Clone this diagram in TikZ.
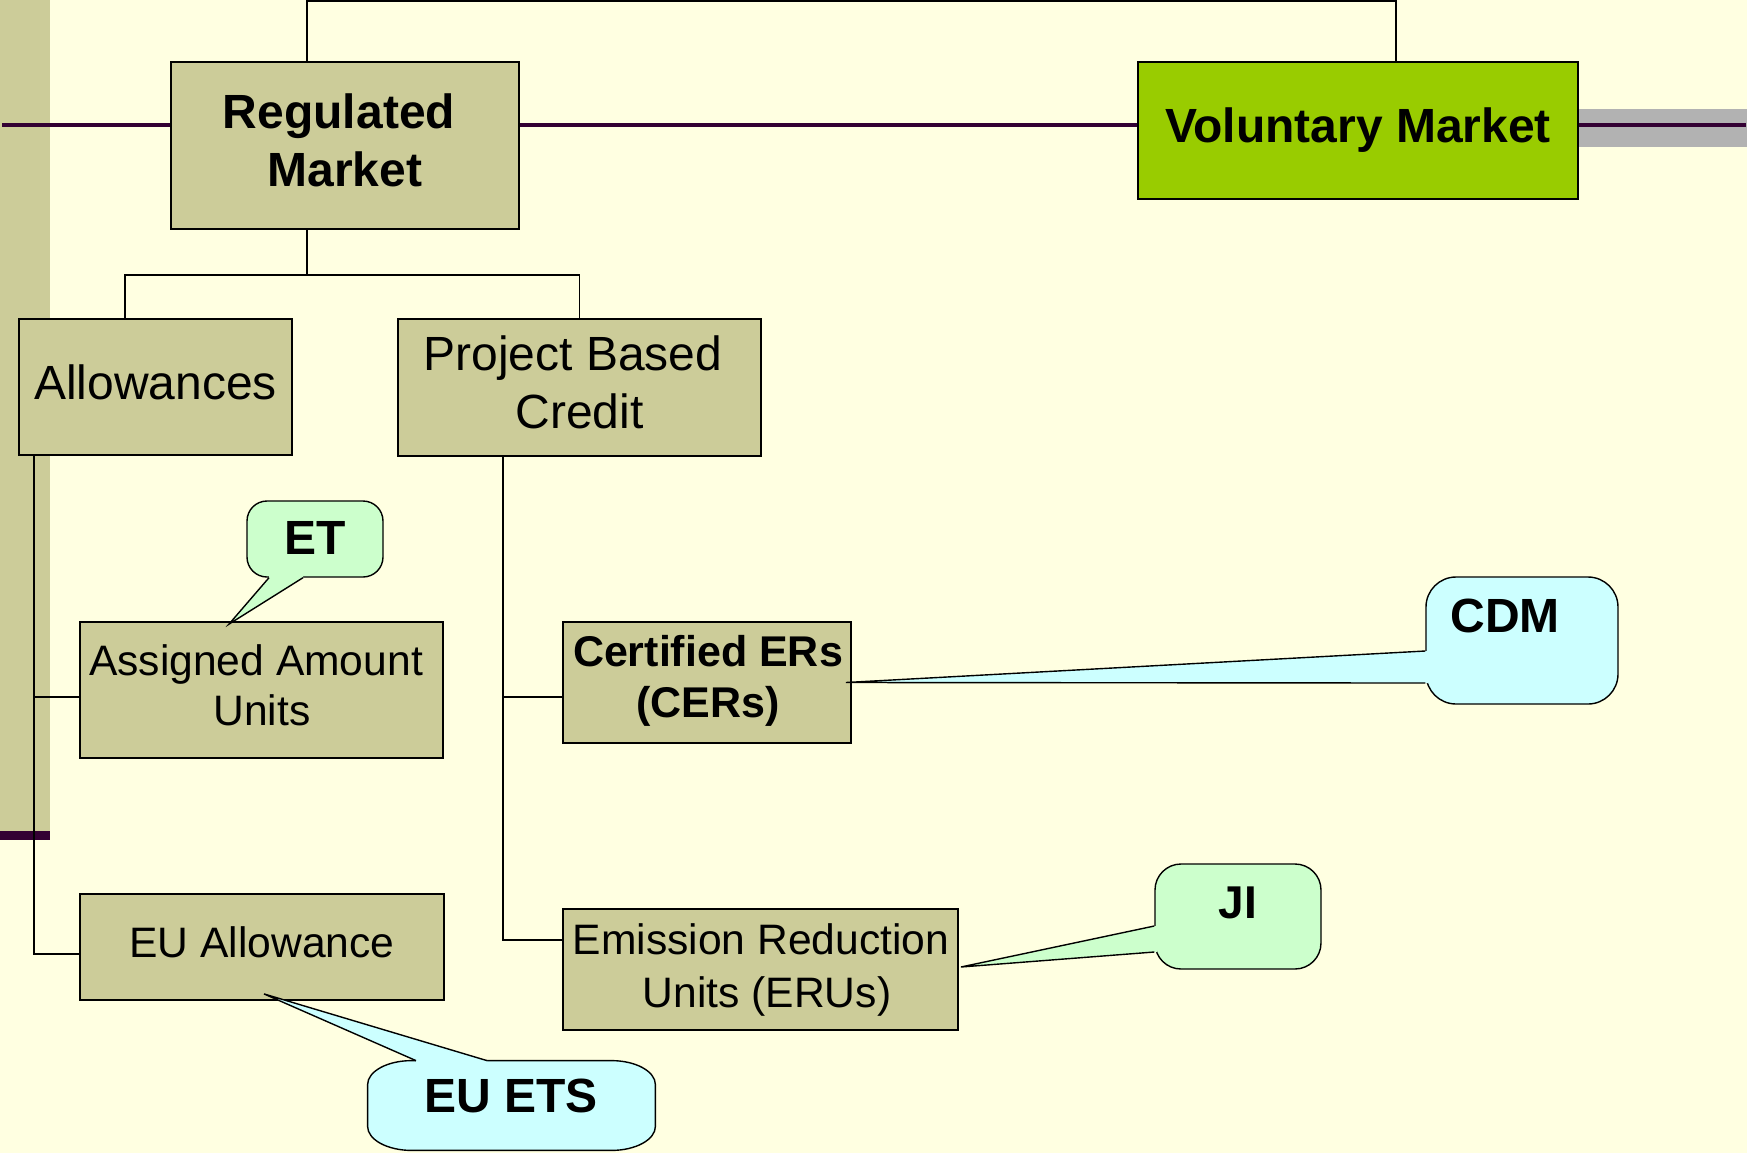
\documentclass[tikz,border=0pt]{standalone}
\usepackage{fontspec}
\setmainfont{Liberation Sans}
\definecolor{bg}{RGB}{255,255,225}
\definecolor{olive}{RGB}{204,204,153}
\definecolor{vgreen}{RGB}{153,204,0}
\definecolor{lgreen}{RGB}{204,255,204}
\definecolor{lcyan}{RGB}{204,255,255}
\definecolor{plum}{RGB}{51,0,51}
\definecolor{greyband}{RGB}{178,178,178}
\tikzset{
  box/.style={draw=black, line width=0.9pt, fill=olive, inner sep=0pt},
  callbox/.style={draw=black, line width=0.7pt, inner sep=0pt},
  conn/.style={draw=black, line width=0.7pt},
  cline/.style={draw=black, line width=0.7pt, line join=miter},
  bigb/.style={font=\fontsize{24pt}{29pt}\selectfont\bfseries, inner sep=0pt, anchor=base},
  bigr/.style={font=\fontsize{24pt}{29pt}\selectfont, inner sep=0pt, anchor=base},
  smallr/.style={font=\fontsize{21.3pt}{25pt}\selectfont, inner sep=0pt, anchor=base},
  smallb/.style={font=\fontsize{21.5pt}{25pt}\selectfont\bfseries, inner sep=0pt, anchor=base}
}
\begin{document}
\begin{tikzpicture}[x=0.5pt,y=-0.5pt]
\useasboundingbox (0,0) rectangle (1747,1153);
\fill[bg] (0,0) rectangle (1747,1153);
% slide decoration
\fill[olive] (0,0) rectangle (50,840);
\fill[plum] (0,831) rectangle (50,840);
\fill[greyband] (1578,109) rectangle (1747,147);
\draw[plum, line width=1.8pt] (2,125) -- (1746,125);

% boxes
\node[box, minimum width=174pt, minimum height=83.5pt] (rm) at (345,145.5) {};
\node[box, fill=vgreen, minimum width=220pt, minimum height=68.5pt] (vm) at (1358,130.5) {};
\node[box, minimum width=136.5pt, minimum height=68pt] (alw) at (155.5,387) {};
\node[box, minimum width=181.5pt, minimum height=68.5pt] (pbc) at (579.5,387.5) {};
\node[box, minimum width=181.5pt, minimum height=68pt] (aau) at (261.5,690) {};
\node[box, minimum width=182pt, minimum height=53pt] (eua) at (262,947) {};
\node[box, minimum width=144pt, minimum height=60.5pt] (cer) at (707,682.5) {};
\node[box, minimum width=197.5pt, minimum height=60.5pt] (eru) at (760.5,969.5) {};

% connectors
\draw[conn] ([xshift=-19pt]rm.north) -- ++(0,-60) -| ([xshift=19pt]vm.north);
\draw[conn] ([xshift=-19pt]rm.south) -- ++(0,45) coordinate (split);
\draw[conn] (split) -| ([xshift=-15.25pt]alw.north);
\draw[conn] (split) -| (pbc.north);
\draw[conn] ([xshift=8pt]alw.south west) |- ([yshift=-3.5pt]aau.west);
\draw[conn] ([xshift=8pt]alw.south west) |- ([yshift=-3.5pt]eua.west);
\draw[conn] ([xshift=53pt]pbc.south west) |- ([yshift=-7.25pt]cer.west);
\draw[conn] ([xshift=53pt]pbc.south west) |- ([yshift=14.75pt]eru.west);

% callouts
\node[callbox, fill=lgreen, minimum width=68pt, minimum height=38pt, rounded corners=10pt] (et) at (315,539) {};
\node[callbox, fill=lcyan, minimum width=96pt, minimum height=63.5pt, rounded corners=15pt] (cdm) at (1522,640.5) {};
\node[callbox, fill=lgreen, minimum width=83pt, minimum height=52.5pt, rounded corners=13pt] (ji) at (1238,916.5) {};
\node[inner sep=0pt, minimum width=143.5pt, minimum height=44.5pt] (euets) at (511.5,1105.5) {};
\draw[callbox, fill=lcyan] ([xshift=22pt]euets.north west) -- ([xshift=-22pt]euets.north east)
  arc[start angle=90, end angle=0, x radius=22pt, y radius=12pt]
  -- ([yshift=12pt]euets.south east)
  arc[start angle=0, end angle=-90, x radius=22pt, y radius=12pt]
  -- ([xshift=22pt]euets.south west)
  arc[start angle=270, end angle=180, x radius=22pt, y radius=12pt]
  -- ([yshift=-12pt]euets.north west)
  arc[start angle=180, end angle=90, x radius=22pt, y radius=12pt] -- cycle;

% pointers
\coordinate (ettip) at ([xshift=-16.25pt,yshift=-1.5pt]aau.north);
\fill[lgreen] (ettip) -- ([xshift=-23pt]et.south) -- ([xshift=-23pt,yshift=1.5pt]et.south) -- ([xshift=-6pt,yshift=1.5pt]et.south) -- ([xshift=-6pt]et.south) -- cycle;
\draw[cline] ([xshift=-23pt]et.south) -- (ettip) -- ([xshift=-6pt]et.south);

\coordinate (cdmtip) at ([xshift=-3pt]cer.east);
\fill[lcyan] (cdmtip) -- ([yshift=-5.25pt]cdm.west) -- ([xshift=1.5pt,yshift=-5.25pt]cdm.west) -- ([xshift=1.5pt,yshift=-21.25pt]cdm.west) -- ([yshift=-21.25pt]cdm.west) -- cycle;
\draw[cline] ([yshift=-5.25pt]cdm.west) -- (cdmtip) -- ([yshift=-21.25pt]cdm.west);

\coordinate (jitip) at ([xshift=1pt,yshift=1.25pt]eru.east);
\fill[lgreen] (jitip) -- ([yshift=-4.75pt]ji.west) -- ([xshift=1.5pt,yshift=-4.75pt]ji.west) -- ([xshift=1.5pt,yshift=-17.75pt]ji.west) -- ([yshift=-17.75pt]ji.west) -- cycle;
\draw[cline] ([yshift=-4.75pt]ji.west) -- (jitip) -- ([yshift=-17.75pt]ji.west);

\coordinate (eutip) at ([xshift=1pt,yshift=3.5pt]eua.south);
\fill[lcyan] (eutip) -- ([xshift=-47.75pt]euets.north) -- ([xshift=-47.75pt,yshift=-1.5pt]euets.north) -- ([xshift=-12.25pt,yshift=-1.5pt]euets.north) -- ([xshift=-12.25pt]euets.north) -- cycle;
\draw[cline] ([xshift=-47.75pt]euets.north) -- (eutip) -- ([xshift=-12.25pt]euets.north);

% texts
\node[bigb] (rmt1) at (339,128) {Regulated};
\node[bigb] (rmt2) at (345,186) {Market};
\node[bigb] (vmt) at (1358,142) {Voluntary Market};
\node[bigr] (alwt) at (155.5,399) {Allowances};
\node[bigr] (pbct1) at (573,370) {Project Based};
\node[bigr] (pbct2) at (579.5,428) {Credit};
\node[smallr] (aaut1) at (256,675) {Assigned Amount};
\node[smallr] (aaut2) at (262,725) {Units};
\node[smallr] (euat) at (262,957) {EU Allowance};
\node[smallb] (cert1) at (708,666) {Certified ERs};
\node[smallb] (cert2) at (708,717) {(CERs)};
\node[smallr] (erut1) at (761,954) {Emission Reduction};
\node[smallr] (erut2) at (767,1007) {Units (ERUs)};
\node[bigb] (ett) at (315,554) {ET};
\node[bigb] (cdmt) at (1505,632) {CDM};
\node[bigb, font=\fontsize{23pt}{27pt}\selectfont\bfseries] (jit) at (1238,918) {JI};
\node[bigb] (euetst) at (511,1112) {EU ETS};
\end{tikzpicture}
\end{document}
